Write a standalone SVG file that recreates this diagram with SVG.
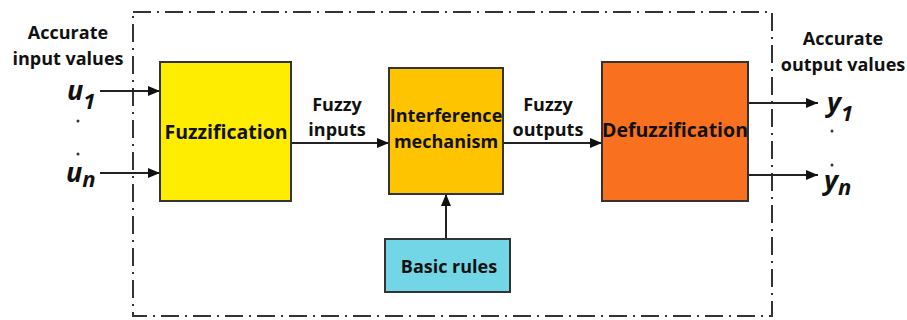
<svg xmlns="http://www.w3.org/2000/svg" width="907" height="320" viewBox="0 0 907 320">
  <style>
    .box { stroke: #333; stroke-width: 2; }
    .lbl { font-family: "Open Sans", "Liberation Sans", sans-serif; font-weight: bold; fill: #111; text-anchor: middle; }
    .var { font-family: "Open Sans", "Liberation Sans", sans-serif; font-weight: bold; font-style: italic; fill: #111; }
    .wire { stroke: #222; stroke-width: 2; fill: none; marker-end: url(#arrow); }
    .frame { stroke: #333; stroke-width: 2; fill: none; stroke-dasharray: 18 6 2 6; }
  </style>
  <defs>
    <marker id="arrow" viewBox="0 0 12 10" refX="12" refY="5" markerWidth="12" markerHeight="10" markerUnits="userSpaceOnUse" orient="auto">
      <path d="M0,0 L12,5 L0,10 z" fill="#111"/>
    </marker>
  </defs>
  <rect width="907" height="320" fill="#fff"/>

  <!-- system boundary -->
  <rect class="frame" x="133" y="12" width="639" height="304"/>

  <!-- connectors -->
  <g id="connectors">
    <line class="wire" x1="100" y1="91" x2="160" y2="91"/>
    <line class="wire" x1="100" y1="173" x2="160" y2="173"/>
    <line class="wire" x1="291" y1="143" x2="389" y2="143"/>
    <line class="wire" x1="503" y1="143" x2="602" y2="143"/>
    <line class="wire" x1="446" y1="239" x2="446" y2="194"/>
    <line class="wire" x1="748" y1="103" x2="818" y2="103"/>
    <line class="wire" x1="748" y1="175" x2="818" y2="175"/>
  </g>

  <!-- inputs -->
  <g id="inputs">
    <text class="lbl" x="68" y="39" font-size="18">Accurate</text>
    <text class="lbl" x="68" y="65" font-size="18">input values</text>
    <text class="var" x="67" y="100" font-size="27">u<tspan font-size="22" dy="9">1</tspan></text>
    <circle cx="78" cy="121" r="1.5" fill="#333"/>
    <circle cx="78" cy="154" r="1.5" fill="#333"/>
    <text class="var" x="66" y="182" font-size="27">u<tspan font-size="22" dy="5">n</tspan></text>
  </g>

  <g id="fuzzification">
    <rect class="box" x="160" y="62" width="131" height="139" fill="#FFED00"/>
    <text class="lbl" x="226" y="139" font-size="19.5">Fuzzification</text>
  </g>

  <g id="fuzzy-inputs">
    <text class="lbl" x="337" y="111" font-size="18">Fuzzy</text>
    <text class="lbl" x="337" y="136" font-size="18">inputs</text>
  </g>

  <g id="interference">
    <rect class="box" x="389" y="68" width="114" height="126" fill="#FFC400"/>
    <text class="lbl" x="446" y="122" font-size="18">Interference</text>
    <text class="lbl" x="446" y="148" font-size="18">mechanism</text>
  </g>

  <g id="fuzzy-outputs">
    <text class="lbl" x="548" y="111" font-size="18">Fuzzy</text>
    <text class="lbl" x="548" y="136" font-size="18">outputs</text>
  </g>

  <g id="basic-rules">
    <rect class="box" x="385" y="239" width="125" height="53" fill="#72D6E6"/>
    <text class="lbl" x="449" y="273" font-size="18">Basic rules</text>
  </g>

  <g id="defuzzification">
    <rect class="box" x="602" y="62" width="146" height="139" fill="#F9701E"/>
    <text class="lbl" x="675" y="137" font-size="19.5">Defuzzification</text>
  </g>

  <!-- outputs -->
  <g id="outputs">
    <text class="lbl" x="843" y="45" font-size="18">Accurate</text>
    <text class="lbl" x="843" y="71" font-size="18">output values</text>
    <text class="var" x="827" y="112" font-size="27">y<tspan font-size="22" dy="9">1</tspan></text>
    <circle cx="832" cy="131" r="1.5" fill="#333"/>
    <circle cx="832" cy="165" r="1.5" fill="#333"/>
    <text class="var" x="824" y="190" font-size="27">y<tspan font-size="22" dy="5">n</tspan></text>
  </g>
</svg>
